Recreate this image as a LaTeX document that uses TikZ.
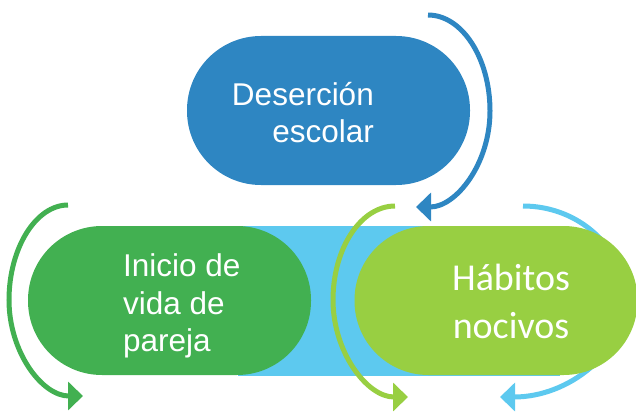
\documentclass[tikz,border=0pt]{standalone}
\usepackage{fontspec}
\setmainfont{Liberation Sans}
\newfontfamily\calib{Carlito}
\usetikzlibrary{arrows.meta,positioning}
\definecolor{dblue}{RGB}{46,134,194}
\definecolor{dgreen}{RGB}{66,176,81}
\definecolor{lgreen}{RGB}{152,207,66}
\definecolor{lblue}{RGB}{93,201,239}
\tikzstyle{pill}=[rectangle,rounded corners=74pt,minimum width=283pt,
  minimum height=149pt,inner sep=0pt]
\tikzstyle{lbl}=[text=white,inner sep=0pt,font={\fontsize{31.5pt}{37.5pt}\selectfont}]
\tikzstyle{cyc}=[-{Triangle[length=15pt,width=28pt]},line width=5pt]

\begin{document}
\begin{tikzpicture}[x=1pt,y=-1pt]
  \useasboundingbox (0,0) rectangle (636,412);

  % band behind the two lower pills
  \fill[lblue] (238,225.5) rectangle (560,375.5);

  \node[pill,fill=dblue] (des) at (328.5,110.5) {};
  \node[pill,fill=dgreen] (ini) at (169.5,225.5+75) {};

  \coordinate (c1) at (523,206);
  \coordinate (c2) at (625,300);
  \coordinate (c3) at (500,397);
  \draw[cyc,lblue] (c1) .. controls +(56,0) and +(0,-52) .. (c2)
    .. controls +(0,52) and +(69,0) .. (c3);

  \node[pill,fill=lgreen] (hab) at (496,300.5) {};

  \node[lbl,align=right,anchor=east] (desT) at (374,112.5) {Deserción\\escolar};
  \node[lbl,align=left,anchor=west] (iniT) at (123,306) {Inicio de\\vida de\\pareja};
  \node[lbl,align=center,font={\calib\fontsize{38pt}{48pt}\selectfont}]
    (habT) at (511,301.5) {Hábitos\\nocivos};

  \coordinate (b1) at (428,15);
  \coordinate (b2) at (490,111);
  \coordinate (b3) at (416,207);
  \draw[cyc,dblue] (b1) .. controls +(34,0) and +(0,-53) .. (b2)
    .. controls +(0,53) and +(40,0) .. (b3);

  \coordinate (g1) at (68,205);
  \coordinate (g2) at (9,300);
  \coordinate (g3) at (83,396);
  \draw[cyc,dgreen] (g1) .. controls +(-32,0) and +(0,-52) .. (g2)
    .. controls +(0,52) and +(-41,0) .. (g3);

  \coordinate (h1) at (395,206);
  \coordinate (h2) at (333,300);
  \coordinate (h3) at (408,397);
  \draw[cyc,lgreen] (h1) .. controls +(-34,0) and +(0,-52) .. (h2)
    .. controls +(0,52) and +(-41,0) .. (h3);

\end{tikzpicture}
\end{document}
